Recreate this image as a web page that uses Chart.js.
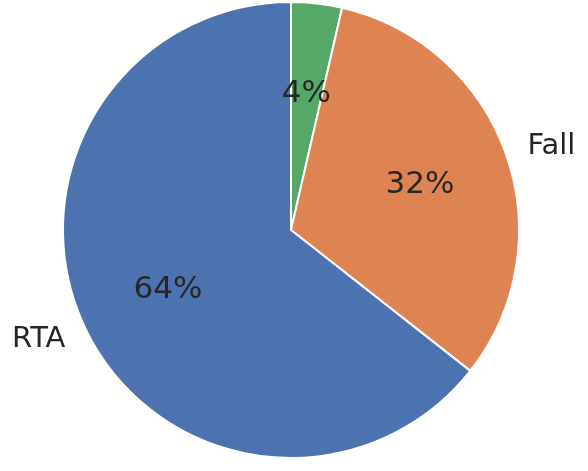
<!DOCTYPE html>
<html>
<head>
<meta charset="utf-8">
<script src="https://cdn.jsdelivr.net/npm/chart.js@4"></script>
<style>
html,body{margin:0;padding:0;background:#fff;}
#wrap{width:588px;height:471px;}
</style>
</head>
<body>
<div id="wrap"><canvas id="c" width="588" height="471"></canvas></div>
<script>
const categories = ['Other', 'Fall', 'RTA'];
const values = [3.6, 32, 64.4];
const colors = ['#55A868', '#DD8452', '#4C72B0'];

const labelPlugin = {
  id: 'pieLabels',
  afterDatasetsDraw(chart) {
    const ctx = chart.ctx;
    const meta = chart.getDatasetMeta(0);
    const total = values.reduce((a, b) => a + b, 0);
    ctx.save();
    ctx.fillStyle = '#262626';
    ctx.textBaseline = 'middle';
    meta.data.forEach((arc, i) => {
      const p = arc.getProps(['x', 'y', 'startAngle', 'endAngle', 'outerRadius'], true);
      const mid = (p.startAngle + p.endAngle) / 2;
      const c = Math.cos(mid), s = Math.sin(mid);
      ctx.font = '31px "DejaVu Sans"';
      ctx.textAlign = 'center';
      const pct = Math.round(values[i] / total * 100) + '%';
      ctx.fillText(pct, p.x + 0.6 * p.outerRadius * c, p.y + 0.6 * p.outerRadius * s);
      ctx.font = '29px "DejaVu Sans"';
      ctx.textAlign = c >= 0 ? 'left' : 'right';
      ctx.fillText(categories[i], p.x + 1.1 * p.outerRadius * c, p.y + 1.1 * p.outerRadius * s);
    });
    ctx.restore();
  }
};

new Chart(document.getElementById('c'), {
  type: 'pie',
  data: {
    labels: categories,
    datasets: [{
      data: values,
      backgroundColor: colors,
      borderColor: '#ffffff',
      borderWidth: 2
    }]
  },
  options: {
    responsive: false,
    animation: false,
    layout: { padding: { left: 62, top: 1, right: 68, bottom: 12 } },
    plugins: { legend: { display: false }, tooltip: { enabled: false } }
  },
  plugins: [labelPlugin]
});
</script>
</body>
</html>
